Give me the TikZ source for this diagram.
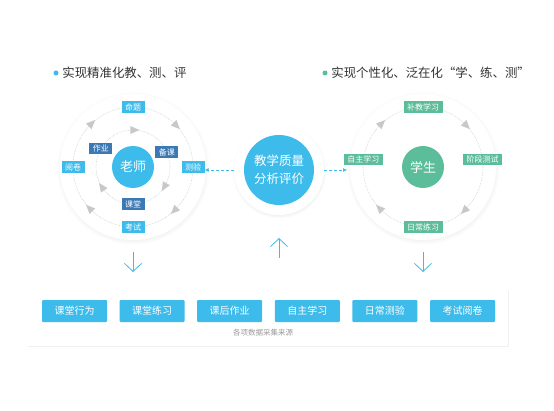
\documentclass[tikz,border=0pt]{standalone}
\usepackage{fontspec}
\setmainfont{Noto Sans CJK SC}
\usetikzlibrary{arrows.meta,shapes.geometric,shadows,positioning,calc}

\definecolor{skyblue}{HTML}{3DBBEB}
\definecolor{deepblue}{HTML}{3B79B5}
\definecolor{mint}{HTML}{5BBD9A}
\definecolor{trigray}{HTML}{C8C8C8}
\definecolor{ringgray}{HTML}{CFCFCF}
\definecolor{titlegray}{HTML}{333333}
\definecolor{notegray}{HTML}{9A9A9A}

\begin{document}
\begin{tikzpicture}[x=1pt, y=1pt,
  halo/.style={circle, fill=white, minimum size=#1,
               circular drop shadow={shadow xshift=0pt, shadow yshift=-1pt,
                                     shadow scale=1.05, opacity=0.2}},
  hub/.style={circle, fill=#1, text=white, inner sep=0pt, minimum size=42pt,
              font=\fontsize{13}{14}\selectfont},
  tag/.style={fill=#1, text=white, inner xsep=3.5pt, inner ysep=0pt,
              minimum height=11.5pt, font=\fontsize{8}{9}\selectfont},
  ring/.style={draw=ringgray, densely dotted, line width=0.6pt},
  tri/.style={isosceles triangle, isosceles triangle stretches, fill=trigray,
              inner sep=0pt, minimum width=8pt, minimum height=9pt},
  dot/.style={circle, fill=#1, inner sep=0pt, minimum size=5pt},
  title/.style={inner sep=0pt, text=titlegray, font=\fontsize{12.4}{14}\selectfont},
  srcbox/.style={fill=skyblue, text=white, rounded corners=1pt, minimum width=65pt,
                 minimum height=22pt, font=\fontsize{10}{12}\selectfont},
  flow/.style={draw=skyblue, line width=0.8pt, -{Straight Barb[length=8pt, width=17pt]}},
  link/.style={draw=skyblue, densely dashed, line width=0.5pt, -{Latex[length=4pt, width=4pt]}}
]
  \useasboundingbox (0,0) rectangle (554,410);

  \coordinate (T) at (133,243);
  \coordinate (S) at (423,243);
  \coordinate (Q) at (279,240);

  % White discs
  \node[halo=146pt] (thalo) at (T) {};
  \node[halo=146pt] (shalo) at (S) {};
  \node[halo=90pt] (qhalo) at (Q) {};

  % Data sources panel
  \node[fill=white, minimum width=481pt, minimum height=56pt,
        drop shadow={shadow xshift=1pt, shadow yshift=-1pt, opacity=0.12}]
        (panel) at (267.5,92) {};

  % Titles
  \node[dot=skyblue] (ldot) at (56,337) {};
  \node[title, right=3.5pt of ldot] (ltitle) {实现精准化教、测、评};
  \node[dot=mint] (rdot) at (325,337) {};
  \node[title, right=3.5pt of rdot] (rtitle) {实现个性化、泛在化“学、练、测”};

  % Teacher cycles
  \draw[ring] (T) circle (60);
  \draw[ring] (T) circle (37);
  \node[hub=skyblue] (teacher) at (T) {老师};
  \foreach \a in {135,45,-45,-135}
    \node[tri, rotate=\a-90] at ($(T)+(\a:60)$) {};
  \foreach \a in {90,-30,-145}
    \node[tri, rotate=\a-90] at ($(T)+(\a:37)$) {};
  \foreach \a/\txt/\nm in {90/命题/mingti, 0/测验/ceyan, 270/考试/kaoshi, 180/阅卷/yuejuan}
    \node[tag=skyblue] (\nm) at ($(T)+(\a:60)$) {\txt};
  \foreach \a/\txt/\nm in {150/作业/zuoye, 24/备课/beike, 270/课堂/ketang}
    \node[tag=deepblue] (\nm) at ($(T)+(\a:37)$) {\txt};

  % Student cycle
  \draw[ring] (S) circle (60);
  \node[hub=mint] (student) at (S) {学生};
  \foreach \a in {135,45,-45,-135}
    \node[tri, rotate=\a-90] at ($(S)+(\a:60)$) {};
  \foreach \a/\txt/\nm in {90/补教学习/bujiao, 7/阶段测试/jieduan, 270/日常练习/richang, 173/自主学习/zizhu}
    \node[tag=mint] (\nm) at ($(S)+(\a:60)$) {\txt};

  % Analysis hub
  \node[circle, fill=skyblue, text=white, minimum size=70pt, align=center,
        font=\fontsize{12.5}{18}\selectfont] (quality) at (Q) {教学质量\\分析评价};

  % Source boxes
  \foreach \txt [count=\i] in {课堂行为,课堂练习,课后作业,自主学习,日常测验,考试阅卷}
    \node[srcbox] (src\i) at ({74.5+77.6*(\i-1)},99) {\txt};
  \node[text=notegray, font=\fontsize{7.5}{9}\selectfont] (note) at (263,77) {各项数据采集来源};

  % Links
  \coordinate (zzin) at (347,240);
  \draw[link] (qhalo.west) -- (qhalo.west -| ceyan.east);
  \draw[link] (qhalo.east) -- (zzin);

  \coordinate (upfrom) at (279,152);
  \coordinate (upto) at (279,172);
  \coordinate (tdfrom) at (133,158);
  \coordinate (tdto) at (133,138);
  \coordinate (sdfrom) at (423,158);
  \coordinate (sdto) at (423,138);
  \draw[flow] (upfrom) -- (upto);
  \draw[flow] (tdfrom) -- (tdto);
  \draw[flow] (sdfrom) -- (sdto);
\end{tikzpicture}
\end{document}
